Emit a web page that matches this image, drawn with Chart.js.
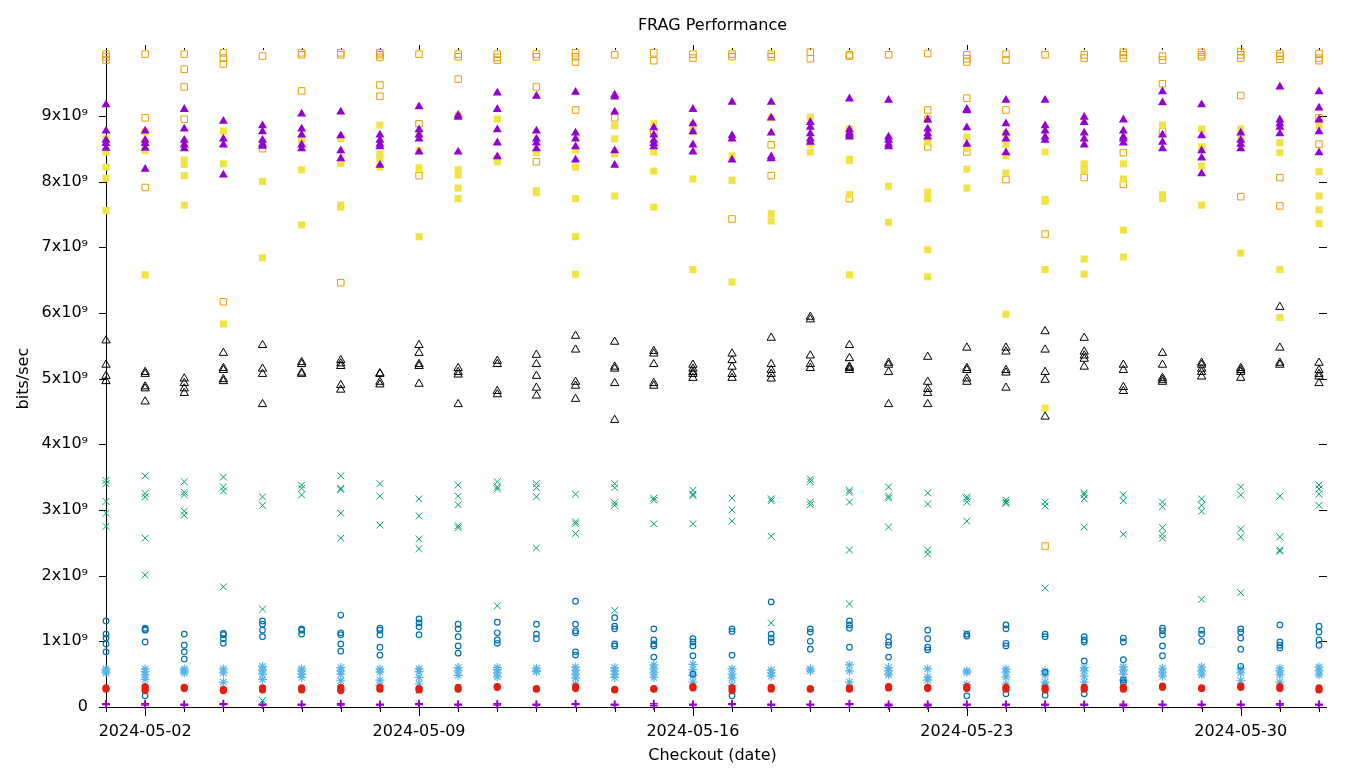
<!DOCTYPE html>
<html>
<head>
<meta charset="utf-8">
<script src="https://cdn.jsdelivr.net/npm/chart.js@4.4.1/dist/chart.umd.min.js"></script>
<style>
html,body{margin:0;padding:0;background:#fff;}
canvas{display:block;}
</style>
</head>
<body>
<canvas id="c" width="1360" height="768"></canvas>
<script>
// ---------------- DATA (values in units of 1e9 bits/sec) ----------------
const UNIT = 1e9;
const checkoutDates = [
  '2024-05-01','2024-05-02','2024-05-03','2024-05-04','2024-05-05','2024-05-06','2024-05-07','2024-05-08',
  '2024-05-09','2024-05-10','2024-05-11','2024-05-12','2024-05-13','2024-05-14','2024-05-15','2024-05-16',
  '2024-05-17','2024-05-18','2024-05-19','2024-05-20','2024-05-21','2024-05-22','2024-05-23','2024-05-24',
  '2024-05-25','2024-05-26','2024-05-27','2024-05-28','2024-05-29','2024-05-30','2024-05-31','2024-06-01'
];
const xTickLabels = ['2024-05-02','2024-05-09','2024-05-16','2024-05-23','2024-05-30'];
const yTickValues = [0,1,2,3,4,5,6,7,8,9];

// series 1: purple plus
const purplePlus = [
  [0.05,0.04],[0.05,0.03],[0.04,0.03],[0.05,0.04],[0.04,0.03],[0.04,0.03],[0.05,0.03],[0.04,0.03],
  [0.05,0.04],[0.04,0.03],[0.05,0.03],[0.04,0.03],[0.05,0.04],[0.04,0.03],[0.05,0.02],[0.04,0.03],
  [0.05,0.04],[0.04,0.03],[0.04,0.03],[0.05,0.04],[0.04,0.02],[0.04,0.02],[0.04,0.03],[0.04,0.03],
  [0.04,0.03],[0.04,0.03],[0.04,0.02],[0.04,0.03],[0.04,0.03],[0.04,0.03],[0.05,0.03],[0.04,0.03]
];
// series 2: green x
const greenX = [
  [3.45,3.4,3.13,2.95,2.75],[3.52,3.25,3.2,2.57,2.01],[3.43,3.27,3.23,2.98,2.92],[3.5,3.35,3.29,1.83],
  [3.2,3.07,1.49,0.1],[3.38,3.33,3.23],[3.52,3.33,3.31,2.95,2.57],[3.4,3.21,2.77],
  [3.17,2.91,2.56,2.41,0.25],[3.38,3.21,3.08,2.76,2.73],[3.43,3.35,3.32,1.54],[3.4,3.34,3.2,2.42],
  [3.24,2.82,2.79,2.64],[3.4,3.34,3.11,3.07,1.47],[3.18,3.15,2.79],[3.3,3.24,3.22,2.79],
  [3.18,3.0,2.83],[3.17,3.14,2.6,1.28],[3.47,3.43,3.12,3.08],[3.3,3.27,3.12,2.39,1.57],
  [3.35,3.21,3.18,2.74],[3.26,3.09,2.39,2.33],[3.2,3.17,3.12,2.83,1.12],[3.15,3.12,3.1],
  [3.12,3.06,1.81],[3.26,3.23,3.17,2.74],[3.23,3.14,2.63],[3.12,3.05,2.73,2.63,2.57],
  [3.17,3.07,2.98,1.64],[3.35,3.23,2.71,2.59,1.74],[3.21,2.59,2.39,2.37],[3.38,3.32,3.24,3.07]
];
// series 3: light blue asterisk
const lightBlueStar = [
  [0.58,0.55,0.52],[0.58,0.54,0.49,0.42],[0.58,0.55,0.52],[0.58,0.52,0.38],
  [0.62,0.56,0.5,0.42],[0.58,0.55,0.5,0.45],[0.6,0.55,0.5,0.4],[0.58,0.53,0.41,0.33],
  [0.58,0.54,0.45,0.35],[0.6,0.55,0.48],[0.6,0.57,0.52,0.46],[0.59,0.55,0.54],
  [0.61,0.56,0.5,0.44,0.35],[0.6,0.55,0.5,0.45],[0.64,0.58,0.52,0.45],[0.65,0.57,0.48,0.38],
  [0.58,0.5,0.44,0.33],[0.56,0.52,0.47],[0.58,0.55],[0.64,0.55,0.38],
  [0.6,0.55,0.49],[0.58,0.46,0.41],[0.55,0.53,0.34],[0.58,0.53,0.46,0.35],
  [0.55,0.49,0.38,0.32],[0.6,0.55,0.47,0.38],[0.61,0.56,0.5,0.41],[0.59,0.53,0.47],
  [0.61,0.55,0.49],[0.58,0.52,0.4],[0.59,0.55,0.49,0.38],[0.61,0.55,0.49]
];
// series 4: orange open square
const orangeSquare = [
  [9.94,9.9,9.85],[9.94,8.97,7.91],[9.94,9.71,9.44,8.95],[9.96,9.88,9.79,6.17],
  [9.91,8.5],[9.96,9.93,9.38],[9.96,9.93,6.46],[9.96,9.93,9.89,9.47,9.3],
  [9.94,8.88,8.09],[9.94,9.9,9.56],[9.94,9.89,9.85],[9.94,9.9,9.44,8.3],
  [9.96,9.9,9.82,9.09],[9.93,8.97],[9.96,9.84,8.75],[9.94,9.88],
  [9.94,9.9,7.43],[9.94,9.9,8.56,8.09],[9.97,9.87],[9.93,9.91,7.74],
  [9.93],[9.95,9.09,8.95,8.53],[9.93,9.87,9.82,9.27,8.45],[9.94,9.85,9.09,8.03],
  [9.93,7.2,2.45],[9.93,9.88,8.06],[9.97,9.93,9.88,8.44,7.96],[9.91,9.85,9.49,8.76],
  [9.97,9.93,9.9],[9.98,9.93,9.88,9.31,7.77],[9.95,9.91,9.86,8.06,7.63],[9.95,9.88,9.84,8.97,8.57]
];
// series 5: yellow filled square
const yellowSquare = [
  [8.65,8.45,8.22,8.05,7.56],[8.76,8.6,8.47,6.58],[8.6,8.33,8.26,8.09,7.64],[8.77,8.27,5.83],
  [8.6,8.0,6.84],[8.63,8.18,7.34],[8.65,8.28,7.64,7.61],[8.86,8.42,8.35,8.22],
  [8.74,8.47,8.21,7.16],[9.0,8.18,8.1,7.9,7.74],[8.95,8.35,8.3],[8.44,7.86,7.83],
  [8.48,8.22,7.74,7.16,6.59],[8.85,8.65,8.42,7.78],[8.88,8.45,8.16,7.61],[8.86,8.76,8.04,6.66],
  [8.39,8.02,6.47],[8.97,7.51,7.4],[8.98,8.57,8.45],[8.8,8.34,8.32,7.8,6.58],
  [8.65,7.93,7.38],[8.6,7.84,7.74,6.96,6.55],[8.68,8.5,8.19,7.9],[8.73,8.57,8.39,8.13,5.98],
  [8.45,7.73,7.7,6.66,4.55],[8.27,8.19,8.16,6.82,6.59],[8.27,8.04,7.26,6.85],[8.86,7.8,7.74],
  [8.8,8.53,8.24,7.64],[8.8,8.65,6.91],[8.59,8.44,6.66,5.93],[8.86,8.15,7.78,7.57,7.36]
];
// series 6: blue open circle
const blueCircle = [
  [1.31,1.11,1.05,0.96,0.84],[1.2,1.18,1.17,0.99,0.17],[1.11,0.94,0.84,0.73],[1.12,1.1,1.04,0.97],
  [1.31,1.26,1.17,1.07],[1.19,1.17,1.11],[1.4,1.13,1.1,0.96,0.85],[1.2,1.17,1.1,0.91,0.79],
  [1.34,1.28,1.22,1.1],[1.26,1.19,1.07,0.93,0.82],[1.29,1.13,1.02,0.97],[1.26,1.11,1.04],
  [1.61,1.26,1.16,1.13,0.84,0.79],[1.36,1.23,1.19,0.96,0.93],[1.19,1.02,0.96,0.93,0.76],[1.04,0.99,0.93,0.78,0.5],
  [1.19,1.15,0.79,0.17],[1.6,1.11,1.05,0.99],[1.19,1.14,1.0,0.88],[1.31,1.25,1.2,0.91],
  [1.07,0.99,0.94,0.76],[1.17,1.04,0.91,0.87],[1.11,1.08,0.17],[1.25,1.19,0.97,0.93,0.2],
  [1.11,1.07,0.53,0.18],[1.07,1.02,0.99,0.7,0.2],[1.05,0.99,0.72,0.41,0.37],[1.2,1.16,1.1,0.93,0.78],
  [1.17,1.11,1.0],[1.19,1.14,1.05,0.88,0.62],[1.25,0.99,0.94,0.9],[1.23,1.14,1.02,0.94]
];
// series 7: red filled circle
const redCircle = [
  [0.29,0.27],[0.31,0.28,0.25],[0.3,0.28],[0.27,0.25],[0.29,0.26],[0.29,0.26],[0.3,0.27,0.25],[0.3,0.27],
  [0.28,0.26],[0.3,0.27],[0.31,0.3],[0.28,0.27],[0.31,0.28],[0.27,0.26],[0.28,0.27],[0.31,0.29],
  [0.29,0.25],[0.3,0.27],[0.28,0.27],[0.29,0.27],[0.31,0.29],[0.3,0.28],[0.31,0.28],[0.3,0.27],
  [0.29,0.26],[0.3,0.27],[0.3,0.27],[0.32,0.3],[0.29,0.28],[0.32,0.3],[0.31,0.28],[0.29,0.26]
];
// series 8: black open triangle
const blackTriangle = [
  [5.58,5.21,5.04,4.96],[5.1,5.07,4.88,4.85,4.65],[5.0,4.93,4.85,4.78],[5.39,5.16,5.13,4.99,4.96],
  [5.51,5.15,5.07,4.61],[5.25,5.22,5.09,5.07],[5.28,5.23,5.19,4.9,4.83],[5.08,5.07,4.95,4.91],
  [5.51,5.39,5.22,5.19,4.92],[5.16,5.1,5.06,4.61],[5.27,5.22,4.81,4.76],[5.36,5.22,5.04,4.86,4.74],
  [5.65,5.44,4.95,4.89,4.69],[5.56,5.18,5.15,4.93,4.37],[5.42,5.38,5.22,4.93,4.89],[5.21,5.15,5.1,5.07,5.01],
  [5.38,5.28,5.18,5.07,5.01],[5.62,5.22,5.13,5.07,5.0],[5.94,5.9,5.35,5.22,5.16],[5.51,5.31,5.18,5.16,5.13],
  [5.24,5.21,5.1,4.61],[5.33,4.95,4.84,4.78,4.61],[5.47,5.16,5.13,5.0,4.95],[5.47,5.41,5.13,5.09,4.86],
  [5.72,5.44,5.1,4.98,4.42],[5.62,5.41,5.35,5.3,5.18],[5.21,5.13,4.87,4.81],[5.39,5.21,5.01,4.98,4.95],
  [5.24,5.21,5.15,5.1,5.03],[5.16,5.13,5.1,5.01],[6.09,5.47,5.24,5.21],[5.24,5.13,5.07,5.03,4.93]
];
// series 9: purple filled triangle
const purpleTriangle = [
  [9.17,8.77,8.63,8.58,8.51],[8.77,8.63,8.58,8.51,8.19],[9.1,8.8,8.63,8.56,8.5],[8.92,8.65,8.56,8.1],
  [8.85,8.76,8.63,8.57,8.54],[9.03,8.8,8.71,8.56,8.5],[9.06,8.7,8.47,8.35],[8.71,8.63,8.57,8.53,8.25],
  [9.14,8.79,8.71,8.65,8.45],[9.01,8.98,8.45],[9.35,9.1,8.79,8.59,8.38],[9.3,8.77,8.65,8.59,8.5],
  [9.36,8.74,8.65,8.53,8.33],[9.32,9.29,9.06,8.47,8.25],[8.82,8.71,8.63,8.58,8.53],[9.1,8.88,8.76,8.56,8.45],
  [9.21,8.7,8.65,8.33],[9.21,8.97,8.74,8.38,8.35],[8.9,8.83,8.73,8.65,8.6],[9.26,8.79,8.74,8.71,8.68],
  [9.24,8.68,8.63,8.57,8.53],[8.94,8.8,8.73,8.68],[9.1,9.08,8.82,8.57],[9.24,8.88,8.74,8.65,8.44],
  [9.24,8.85,8.77,8.68,8.63],[8.98,8.9,8.74,8.65,8.56],[8.94,8.77,8.68,8.65,8.59],[9.37,9.2,8.71,8.6,8.5],
  [9.17,8.7,8.47,8.36,8.12],[8.74,8.63,8.57,8.5],[9.44,8.94,8.88,8.83,8.73],[9.37,9.12,8.94,8.76,8.44]
];

// ---------------- CHART ----------------
function toPoints(perDay){
  const pts = [];
  perDay.forEach((vals, i) => vals.forEach(v => pts.push({x: i, y: v * UNIT})));
  return pts;
}

const seriesDefs = [
  {label:'series 1', values: purplePlus,     color:'#9400d3', style:'cross',    r:4,   filled:false, bw:1.6},
  {label:'series 2', values: greenX,         color:'#009e73', style:'crossRot', r:4.8, filled:false, bw:1},
  {label:'series 3', values: lightBlueStar,  color:'#56b4e9', style:'star',     r:4.5, filled:false, bw:1.2},
  {label:'series 4', values: orangeSquare,   color:'#e69f00', style:'rect',     r:4.6, filled:false, bw:1},
  {label:'series 5', values: yellowSquare,   color:'#f0e442', style:'rect',     r:5,   filled:true,  bw:0},
  {label:'series 6', values: blueCircle,     color:'#0072b2', style:'circle',   r:2.8, filled:false, bw:1.2},
  {label:'series 7', values: redCircle,      color:'#e51e10', style:'circle',   r:3.6, filled:true,  bw:0},
  {label:'series 8', values: blackTriangle,  color:'#000000', style:'triangle', r:4.8, filled:false, bw:1},
  {label:'series 9', values: purpleTriangle, color:'#9400d3', style:'triangle', r:5.2, filled:true,  bw:0}
];

const datasets = seriesDefs.map((s, i) => ({
  label: s.label,
  data: toPoints(s.values),
  pointStyle: s.style,
  pointRadius: s.r,
  pointHoverRadius: s.r,
  borderColor: s.color,
  backgroundColor: s.filled ? s.color : 'rgba(0,0,0,0)',
  borderWidth: s.bw,
  showLine: false,
  clip: false,
  order: seriesDefs.length - i
}));

const xMajor = xTickLabels.map(d => checkoutDates.indexOf(d));

const gnuplotAxes = {
  id: 'gnuplotAxes',
  beforeDatasetsDraw(chart){
    const {ctx, chartArea} = chart;
    const xs = chart.scales.x, ys = chart.scales.y;
    const L = Math.round(chartArea.left), R = Math.round(chartArea.right);
    const T = Math.round(chartArea.top), B = Math.round(chartArea.bottom);
    ctx.save();
    ctx.strokeStyle = '#000';
    ctx.lineWidth = 1;
    ctx.beginPath();
    ctx.moveTo(L + 0.5, T); ctx.lineTo(L + 0.5, B + 1);
    ctx.moveTo(L, B + 0.5); ctx.lineTo(R + 1, B + 0.5);
    yTickValues.forEach(v => {
      const py = Math.round(ys.getPixelForValue(v * UNIT)) + 0.5;
      ctx.moveTo(L - 7, py); ctx.lineTo(L + 1, py);
      ctx.moveTo(R, py); ctx.lineTo(R + 8, py);
    });
    for (let d = 0; d < checkoutDates.length; d++) {
      const px = Math.round(xs.getPixelForValue(d)) + 0.5;
      const major = xMajor.includes(d);
      ctx.moveTo(px, B + 1); ctx.lineTo(px, B + 1 + (major ? 8 : 4));
      ctx.moveTo(px, T); ctx.lineTo(px, T - (major ? 5 : 2));
    }
    ctx.stroke();
    ctx.restore();
  }
};

Chart.defaults.font.family = "'DejaVu Sans', sans-serif";
Chart.defaults.color = '#000';

new Chart(document.getElementById('c'), {
  type: 'scatter',
  data: { datasets },
  options: {
    responsive: false,
    devicePixelRatio: 1,
    animation: false,
    events: [],
    layout: { padding: { left: 0, right: 41, top: 0, bottom: 0 } },
    plugins: {
      legend: { display: false },
      tooltip: { enabled: false },
      title: {
        display: true,
        text: 'FRAG Performance',
        fullSize: false,
        color: '#000',
        font: { size: 16, weight: 'normal', family: "'DejaVu Sans', sans-serif" },
        padding: { top: 16, bottom: 15 }
      }
    },
    scales: {
      x: {
        type: 'linear',
        min: 0,
        max: checkoutDates.length - 1,
        grid: { display: false, drawTicks: false },
        border: { display: false },
        afterBuildTicks(scale){ scale.ticks = xMajor.map(v => ({value: v})); },
        afterFit(scale){ scale.height = 61; },
        ticks: {
          autoSkip: false,
          maxRotation: 0,
          padding: 15,
          color: '#000',
          font: { size: 16 },
          callback: v => checkoutDates[v]
        },
        title: {
          display: true,
          text: 'Checkout (date)',
          color: '#000',
          font: { size: 16 },
          padding: { top: 0, bottom: 3 }
        }
      },
      y: {
        type: 'linear',
        min: 0,
        max: 10 * UNIT,
        grid: { display: false, drawTicks: false },
        border: { display: false },
        afterBuildTicks(scale){ scale.ticks = yTickValues.map(v => ({value: v * UNIT})); },
        afterFit(scale){ scale.width = 106; },
        ticks: {
          padding: 18,
          color: '#000',
          font: { size: 16 },
          callback: v => v === 0 ? '0' : (Math.round(v / UNIT)) + 'x10\u2079'
        },
        title: {
          display: true,
          text: 'bits/sec',
          color: '#000',
          font: { size: 16 },
          padding: { top: 14, bottom: 0 }
        }
      }
    }
  },
  plugins: [gnuplotAxes]
});
</script>
</body>
</html>
